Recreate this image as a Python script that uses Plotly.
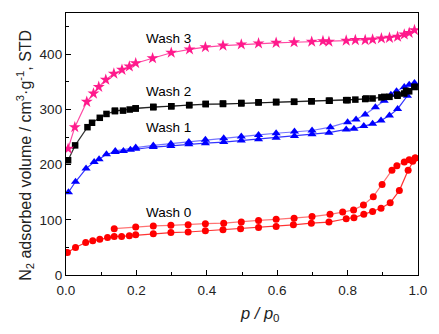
import plotly.graph_objects as go

# Wash 3 (single branch)
w3_x = [0.006,0.025,0.059,0.078,0.093,0.113,0.136,0.159,0.18,0.198,0.246,0.299,0.351,0.396,0.446,0.498,0.547,0.597,0.648,0.698,0.73,0.747,0.796,0.822,0.85,0.871,0.896,0.919,0.942,0.961,0.975,0.99]
w3_y = [229,268,314,329,341,354,365,372,378,384,393,403,409,413,416,418,420,421,422,423,424,423,425,426,426,427,429,430,432,436,439,444]

# Wash 2
w2_ads_x = [0.006,0.026,0.061,0.074,0.096,0.115,0.139,0.162,0.181,0.198,0.248,0.299,0.35,0.397,0.446,0.498,0.547,0.597,0.648,0.698,0.747,0.796,0.822,0.85,0.871,0.896,0.919,0.942,0.961,0.975,0.99]
w2_ads_y = [208,235,268,276,285,292,297,298,300,302,304,306,308,310,310,311,313,313,314,315,316,317,318,319,320,322,323,325,329,333,341]
w2_des_x = [0.99,0.966,0.941,0.904,0.853,0.8,0.749,0.697,0.648,0.597,0.547,0.498,0.446,0.397,0.35,0.299,0.248,0.198,0.139]
w2_des_y = [341,334,327,323,320,317,316,315,314,314,313,312,311,310,308,306,305,302,298]

# Wash 1
w1_ads_x = [0.007,0.027,0.057,0.08,0.094,0.115,0.14,0.163,0.183,0.198,0.248,0.298,0.349,0.396,0.448,0.498,0.547,0.597,0.649,0.699,0.747,0.796,0.818,0.846,0.871,0.895,0.919,0.942,0.97,0.99]
w1_ads_y = [150,169,193,205,210,219,223,225,227,229,232,234,237,239,241,244,246,249,252,255,258,264,265,270,274,280,289,301,325,346]
w1_des_x = [0.99,0.975,0.961,0.939,0.923,0.904,0.879,0.85,0.824,0.8,0.751,0.699,0.649,0.597,0.547,0.498,0.448,0.396,0.349,0.298,0.248,0.198,0.14]
w1_des_y = [348,345,341,333,327,316,304,291,282,277,268,262,260,257,254,251,248,245,241,238,235,231,225]

# Wash 0
w0_ads_x = [0.004,0.027,0.056,0.076,0.096,0.118,0.137,0.158,0.18,0.198,0.248,0.298,0.347,0.396,0.446,0.496,0.547,0.597,0.646,0.697,0.747,0.796,0.818,0.846,0.871,0.895,0.921,0.947,0.972,0.985,0.992]
w0_ads_y = [41,50,59,62,65,68,70,70,71,73,75,77,78,80,82,84,86,88,91,94,96,102,104,110,115,121,131,153,190,206,212]
w0_des_x = [0.992,0.975,0.961,0.94,0.926,0.898,0.873,0.845,0.817,0.786,0.75,0.699,0.648,0.597,0.547,0.498,0.448,0.396,0.347,0.298,0.248,0.198,0.137]
w0_des_y = [212,209,205,198,190,164,142,127,118,114,110,106,103,101,99,96,94,93,91,90,89,87,84]

labels = ["Wash 3", "Wash 2", "Wash 1", "Wash 0"]
label_x = [0.292, 0.292, 0.292, 0.292]
label_y = [429, 333, 268, 114]

x_title = "<i>p / p</i><sub>0</sub>"
y_title = "N<sub>2</sub> adsorbed volume / cm<sup>3</sup>·g<sup>-1</sup>, STD"

PINK = "#FF1A8C"
fig = go.Figure()

def add(x, y, color, symbol, size, lcolor):
    fig.add_trace(go.Scatter(x=x, y=y, mode="lines+markers",
                             line=dict(color=lcolor, width=1.2),
                             marker=dict(color=color, symbol=symbol, size=size, line=dict(width=0)),
                             showlegend=False))

add(w0_des_x, w0_des_y, "#FF0000", "circle", 7, "rgba(255,0,0,0.55)")
add(w0_ads_x, w0_ads_y, "#FF0000", "circle", 7, "rgba(255,0,0,0.8)")
add(w1_des_x, w1_des_y, "#0000FF", "triangle-up", 8, "rgba(0,0,255,0.55)")
add(w1_ads_x, w1_ads_y, "#0000FF", "triangle-up", 8, "rgba(0,0,255,0.8)")
add(w2_des_x, w2_des_y, "#000000", "square", 6.5, "rgba(0,0,0,0.5)")
add(w2_ads_x, w2_ads_y, "#000000", "square", 6.5, "rgba(0,0,0,0.8)")
add(w3_x, w3_y, PINK, "star", 9, "rgba(255,26,140,0.8)")

for t, x, y in zip(labels, label_x, label_y):
    fig.add_annotation(x=x, y=y, text=t, showarrow=False, xref="x", yref="y",
                       font=dict(size=13.5, color="#000000"))

# axis titles as annotations for precise placement
fig.add_annotation(x=0.55, y=-0.149, xref="x", yref="paper", text=x_title, showarrow=False,
                   xanchor="center", yanchor="middle", font=dict(size=16.5, color="#222222"))
fig.add_annotation(x=-0.117, y=0.458, xref="paper", yref="paper", text=y_title, showarrow=False,
                   textangle=-90, xanchor="center", yanchor="middle", font=dict(size=16, color="#222222"))

axis_common = dict(showline=True, linecolor="#000000", linewidth=1.3, mirror=True,
                   ticks="inside", ticklen=5, tickwidth=1, tickcolor="#000000",
                   showgrid=False, zeroline=False,
                   tickfont=dict(size=13.5, color="#222222"))

fig.update_xaxes(range=[0, 1.0], tick0=0, dtick=0.2, tickformat=".1f", ticklabelstandoff=3,
                 minor=dict(ticks="inside", ticklen=3, dtick=0.1, tickcolor="#000000"),
                 **axis_common)
fig.update_yaxes(range=[0, 475], tick0=0, dtick=100,
                 minor=dict(ticks="inside", ticklen=3, dtick=50, tickcolor="#000000"),
                 **axis_common)

fig.update_layout(width=439, height=334, margin=dict(l=66, r=21, t=13, b=59),
                  paper_bgcolor="#FFFFFF", plot_bgcolor="#FFFFFF",
                  font=dict(family="Arial, Liberation Sans, sans-serif"))

fig.write_html("out.html")
